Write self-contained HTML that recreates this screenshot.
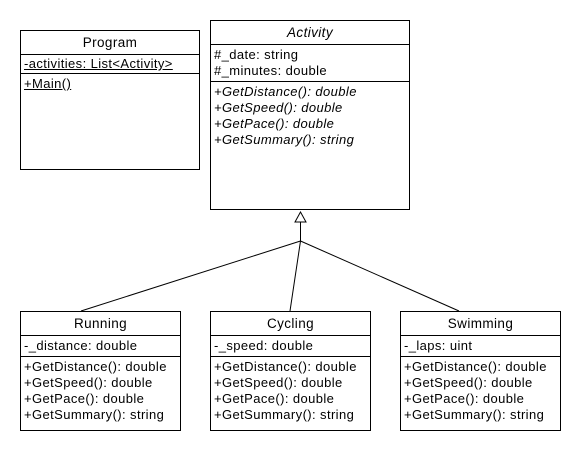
<!DOCTYPE html>
<html><head><style>
body{margin:0;width:580px;height:450px;background:#fff;font-family:"Liberation Sans",Arial,sans-serif;font-size:13px;letter-spacing:0.4px;color:#000;}
.b{position:absolute;border:1px solid #000;box-sizing:border-box;background:#fff;white-space:nowrap;}
.h{text-align:center;height:23px;line-height:23px;border-bottom:1px solid #000;font-size:13.5px;}
.s{border-bottom:1px solid #000;padding:2px 3px;line-height:16px;}
.m{padding:2px 3px;line-height:16px;}
.u{text-decoration:underline;}
.i{font-style:italic;}
</style></head><body>
<svg width="580" height="450" style="position:absolute;left:0;top:0">
<g stroke="#000" stroke-width="1" fill="none">
<line x1="300.5" y1="222" x2="300.5" y2="241"/>
<line x1="300.5" y1="241" x2="81" y2="311"/>
<line x1="300.5" y1="241" x2="290" y2="311"/>
<line x1="300.5" y1="241" x2="459" y2="311"/>
<polygon points="300.5,212 295,222 306,222" fill="#fff"/>
</g></svg>
<div class="b" style="left:20px;top:30px;width:180px;height:140px">
<div class="h">Program</div>
<div class="s u" style="padding:1px 3px">-activities: List&lt;Activity&gt;</div>
<div class="m u">+Main()</div>
</div>
<div class="b" style="left:210px;top:20px;width:200px;height:190px">
<div class="h i">Activity</div>
<div class="s">#_date: string<br>#_minutes: double</div>
<div class="m i">+GetDistance(): double<br>+GetSpeed(): double<br>+GetPace(): double<br>+GetSummary(): string</div>
</div>
<div class="b" style="left:20px;top:311px;width:161px;height:120px">
<div class="h">Running</div>
<div class="s">-_distance: double</div>
<div class="m">+GetDistance(): double<br>+GetSpeed(): double<br>+GetPace(): double<br>+GetSummary(): string</div>
</div>
<div class="b" style="left:210px;top:311px;width:161px;height:120px">
<div class="h">Cycling</div>
<div class="s">-_speed: double</div>
<div class="m">+GetDistance(): double<br>+GetSpeed(): double<br>+GetPace(): double<br>+GetSummary(): string</div>
</div>
<div class="b" style="left:400px;top:311px;width:161px;height:120px">
<div class="h">Swimming</div>
<div class="s">-_laps: uint</div>
<div class="m">+GetDistance(): double<br>+GetSpeed(): double<br>+GetPace(): double<br>+GetSummary(): string</div>
</div>
</body></html>
